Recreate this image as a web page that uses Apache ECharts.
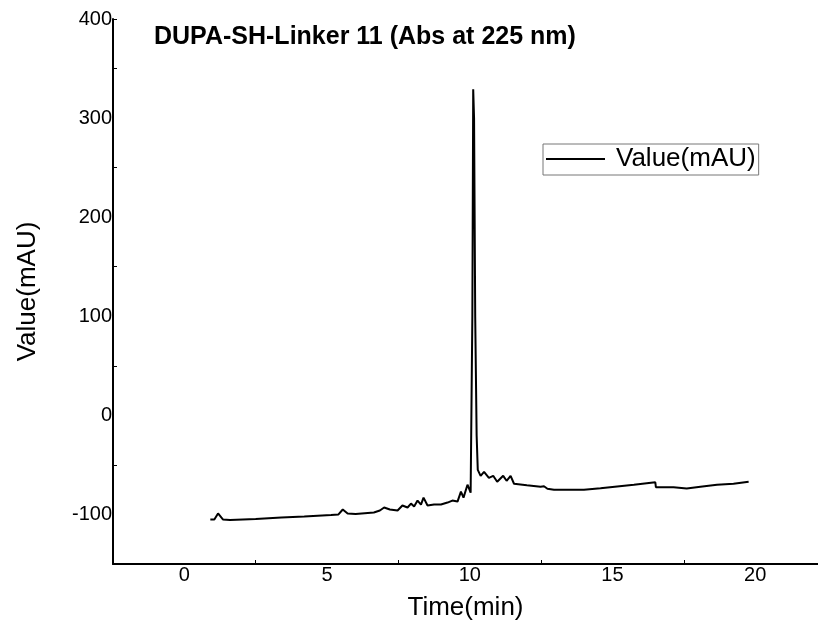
<!DOCTYPE html>
<html>
<head>
<meta charset="utf-8">
<script src="https://cdn.jsdelivr.net/npm/echarts@6/dist/echarts.min.js"></script>
<style>html,body{margin:0;padding:0;background:#fff}#c{width:818px;height:631px}</style>
</head>
<body>
<div id="c"></div>
<script>
var titleText = 'DUPA-SH-Linker 11 (Abs at 225 nm)';
var seriesName = 'Value(mAU)';
var xTitle = 'Time(min)';
var yTitle = 'Value(mAU)';
var times = [0.91,1.05,1.18,1.35,1.6,2.5,3.4,4.2,5.14,5.4,5.55,5.72,6.0,6.64,6.85,7.0,7.2,7.47,7.64,7.82,7.94,8.05,8.17,8.29,8.38,8.52,8.75,8.99,9.22,9.39,9.57,9.69,9.78,9.92,10.03,10.06,10.09,10.12,10.15,10.19,10.24,10.28,10.38,10.5,10.67,10.82,10.96,11.17,11.29,11.43,11.55,12.0,12.48,12.6,12.72,12.95,14.0,14.58,15.75,16.5,16.52,17.14,17.2,17.6,18.08,18.66,19.24,19.77];
var values = [-105,-105,-99,-105,-105.5,-104.5,-103,-102,-100.5,-100,-95,-99,-99.5,-98,-96,-93,-95,-96,-91,-93,-89,-92,-86,-90,-83,-91,-90,-90,-88,-86,-87,-77,-83,-70,-78,-78,100,329,300,100,-20,-55,-61,-57,-63,-61,-67,-61,-66,-61,-69,-70.5,-72,-71.5,-74,-75,-75,-73.5,-70,-67.5,-72.5,-72.5,-74,-73.8,-72,-70,-69,-67];

var data = times.map(function(t, i){ return [t, values[i]]; });
var font = 'Liberation Sans, Arial, sans-serif';
var chart = echarts.init(document.getElementById('c'));
var xMin = -2.5, xMax = 22.2, yMin = -150, yMax = 400;
chart.setOption({
  animation: false,
  title: {text: titleText, left: 154, top: 25, padding: 0, textStyle: {fontFamily: font, fontSize: 25, fontWeight: 'bold', color: '#000'}},
  legend: {
    left: 543, top: 144, orient: 'horizontal',
    borderColor: '#777', borderWidth: 1, padding: [2, 3, 3, 3], borderRadius: 0,
    icon: 'rect', itemWidth: 59, itemHeight: 2, itemGap: 0,
    textStyle: {fontFamily: font, fontSize: 26, color: '#000', padding: [0, 0, 0, 6]},
    data: [seriesName]
  },
  grid: {left: 113, right: 0, top: 19, bottom: 67, containLabel: false},
  xAxis: [
    {type: 'value', min: xMin, max: xMax, interval: 2.5,
     name: xTitle, nameLocation: 'middle', nameGap: 31,
     nameTextStyle: {fontFamily: font, fontSize: 26, color: '#000'},
     axisLine: {show: true, onZero: false, lineStyle: {color: '#000', width: 2}},
     axisTick: {show: false}, splitLine: {show: false},
     axisLabel: {fontFamily: font, fontSize: 20, color: '#000', margin: 1, showMinLabel: false, showMaxLabel: false,
       formatter: function(v){ return (Math.abs(v % 5) < 1e-6) ? String(v) : ''; }}},
    {type: 'value', min: xMin, max: xMax, interval: 5, position: 'bottom',
     axisLine: {show: false, onZero: false}, axisLabel: {show: false}, splitLine: {show: false},
     axisTick: {show: true, inside: true, length: 4, lineStyle: {color: '#000', width: 1}}}
  ],
  yAxis: [
    {type: 'value', min: yMin, max: yMax, interval: 50,
     name: yTitle, nameLocation: 'middle', nameGap: 72,
     nameTextStyle: {fontFamily: font, fontSize: 26, color: '#000'},
     axisLine: {show: true, onZero: false, lineStyle: {color: '#000', width: 2}},
     axisTick: {show: false}, splitLine: {show: false},
     axisLabel: {fontFamily: font, fontSize: 20, color: '#000', margin: 1, showMinLabel: false,
       formatter: function(v){ return (Math.abs(v % 100) < 1e-6) ? String(v) : ''; }}},
    {type: 'value', min: yMin, max: yMax, interval: 100, position: 'left',
     axisLine: {show: false, onZero: false}, axisLabel: {show: false}, splitLine: {show: false},
     axisTick: {show: true, inside: true, length: 4, lineStyle: {color: '#000', width: 1}}}
  ],
  series: [{
    name: seriesName, type: 'line', data: data, showSymbol: false, symbol: 'none',
    xAxisIndex: 0, yAxisIndex: 0,
    lineStyle: {color: '#000', width: 2}, itemStyle: {color: '#000'}
  }]
});
</script>
</body>
</html>
